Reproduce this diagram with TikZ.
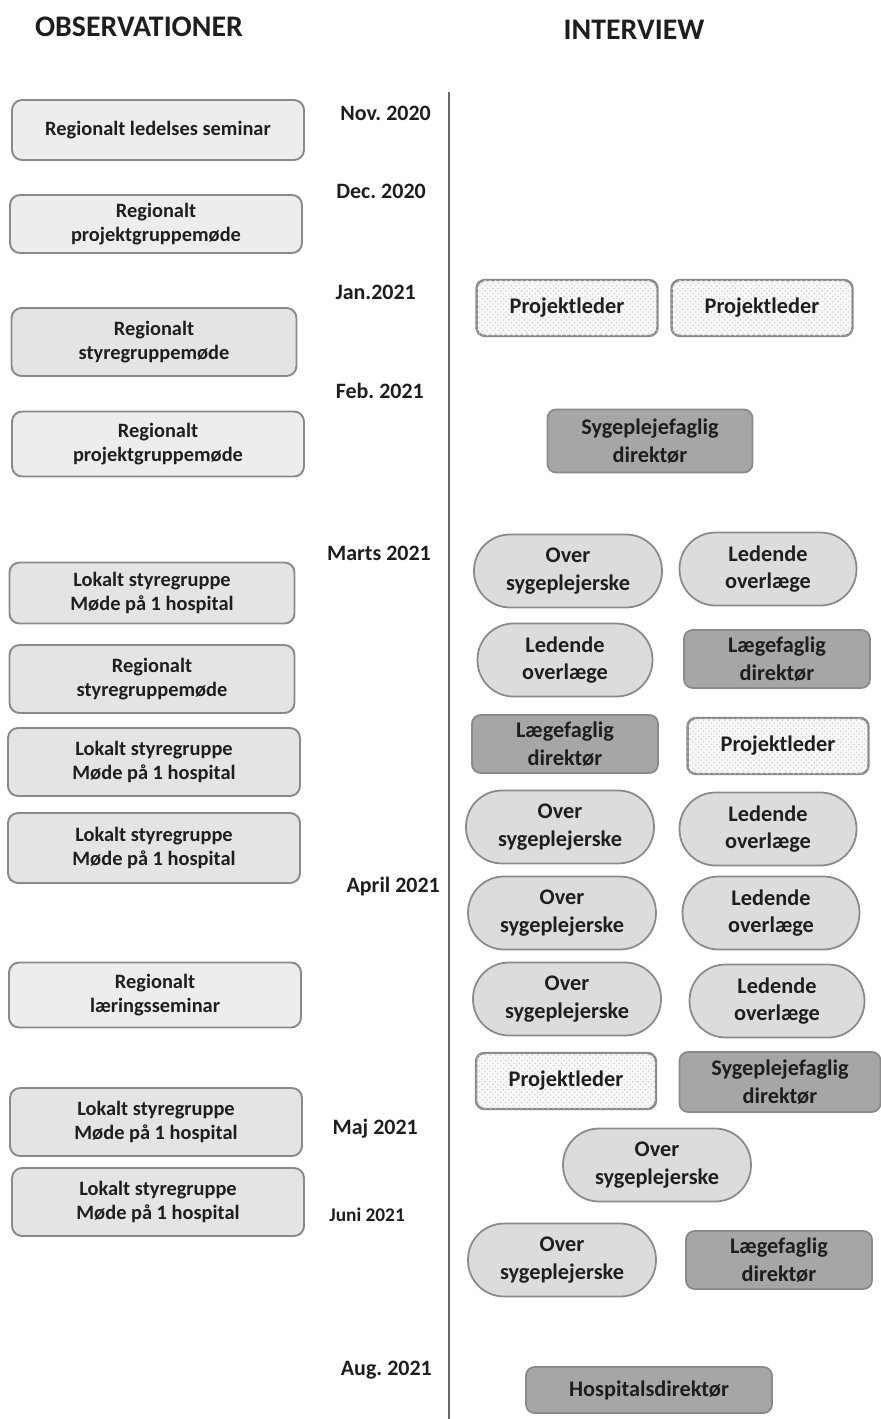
\documentclass[tikz,border=0pt]{standalone}
\usepackage{fontspec}
\setmainfont{Carlito}
\usepackage{xcolor}
\usepackage{tikz}
\usetikzlibrary{positioning,calc,patterns}
\frenchspacing

\definecolor{lysgraa}{HTML}{EDEDED}
\definecolor{styregraa}{HTML}{E4E4E4}
\definecolor{pillgraa}{HTML}{DCDCDC}
\definecolor{moerkgraa}{HTML}{A6A6A6}
\definecolor{rammegraa}{HTML}{8A8A8A}
\definecolor{tekst}{HTML}{1E1E1E}

\begin{document}
\begin{tikzpicture}[x=0.02cm,y=-0.02cm,
    overskrift/.style={font=\bfseries\fontsize{17}{20}\selectfont,text=tekst},
    dato/.style={anchor=east,font=\bfseries\fontsize{12.5}{14}\selectfont,text=tekst},
    obs/.style={draw=rammegraa,line width=1.1pt,rounded corners=0.2cm,fill=lysgraa,
        minimum width=5.84cm,minimum height=1.3cm,align=center,
        font=\bfseries\fontsize{11.6}{14}\selectfont,text=tekst},
    pill/.style={draw=rammegraa,line width=1pt,rounded corners=0.72cm,fill=pillgraa,
        minimum width=3.76cm,minimum height=1.46cm,align=center,
        font=\bfseries\fontsize{12.7}{15.5}\selectfont,text=tekst},
    dir/.style={draw=rammegraa,line width=1pt,rounded corners=0.17cm,fill=moerkgraa,
        minimum width=3.72cm,minimum height=1.16cm,align=center,
        font=\bfseries\fontsize{12.7}{15.5}\selectfont,text=tekst},
    proj/.style={draw=rammegraa,line width=1.4pt,rounded corners=0.17cm,fill=gray!5,
        postaction={pattern=crosshatch dots,pattern color=gray!35},
        minimum width=3.62cm,minimum height=1.12cm,align=center,
        font=\bfseries\fontsize{12.7}{15.5}\selectfont,text=tekst},
    tidslinje/.style={draw=gray!80!black,line width=1.6pt}]

    \useasboundingbox (0,0) rectangle (881,1419);

    % Headers
    \node[overskrift] (hobs) at (139,27) {OBSERVATIONER};
    \node[overskrift] (hint) at (634,30) {INTERVIEW};

    % Timeline
    \coordinate (top) at (449,92);
    \coordinate (bund) at (449,1419);
    \draw[tidslinje] (top) -- (bund);

    % Dates
    \node[dato] (nov) at (437,113) {Nov. 2020};
    \node[dato] (dec) at (432,191) {Dec. 2020};
    \node[dato] (jan) at (422,292) {Jan.2021};
    \node[dato] (feb) at (430,391) {Feb. 2021};
    \node[dato] (mar) at (437,553) {Marts 2021};
    \node[dato] (apr) at (446,887) {April 2021};
    \node[dato] (maj) at (424,1129) {Maj 2021};
    \node[dato,font=\bfseries\fontsize{11}{13}\selectfont] (jun) at (411,1215) {Juni 2021};
    \node[dato] (aug) at (438,1370) {Aug. 2021};

    % Observationer
    \node[obs,minimum height=1.2cm] (o1) at (158,130) {Regionalt ledelses seminar};
    \node[obs,minimum height=1.16cm] (o2) at (156,224) {Regionalt\\projektgruppemøde};
    \node[obs,fill=styregraa,minimum width=5.7cm,minimum height=1.36cm] (o3) at (154,342) {Regionalt\\styregruppemøde};
    \node[obs] (o4) at (158,444) {Regionalt\\projektgruppemøde};
    \node[obs,fill=styregraa,minimum width=5.7cm,minimum height=1.22cm] (o5) at (152,593) {Lokalt styregruppe\\Møde på 1 hospital};
    \node[obs,fill=styregraa,minimum width=5.7cm,minimum height=1.36cm] (o6) at (152,679) {Regionalt\\styregruppemøde};
    \node[obs,fill=styregraa,minimum height=1.36cm] (o7) at (154,762) {Lokalt styregruppe\\Møde på 1 hospital};
    \node[obs,fill=styregraa,minimum height=1.4cm] (o8) at (154,848) {Lokalt styregruppe\\Møde på 1 hospital};
    \node[obs] (o9) at (155,995) {Regionalt\\læringsseminar};
    \node[obs,fill=styregraa,minimum height=1.36cm] (o10) at (156,1122) {Lokalt styregruppe\\Møde på 1 hospital};
    \node[obs,fill=styregraa,minimum height=1.36cm] (o11) at (158,1202) {Lokalt styregruppe\\Møde på 1 hospital};

    % Interview: jan - feb
    \node[proj] (i1) at (567,308) {Projektleder};
    \node[proj] (i2) at (762,308) {Projektleder};
    \node[dir,minimum width=4.1cm,minimum height=1.26cm] (i3) at (650,441) {Sygeplejefaglig\\direktør};

    % Interview: marts - april
    \node[pill] (i4) at (568,571) {Over\\sygeplejerske};
    \node[pill,minimum width=3.54cm] (i5) at (768,569) {Ledende\\overlæge};
    \node[pill,minimum width=3.5cm] (i6) at (565,660) {Ledende\\overlæge};
    \node[dir] (i7) at (777,659) {Lægefaglig\\direktør};
    \node[dir] (i8) at (565,744) {Lægefaglig\\direktør};
    \node[proj] (i9) at (778,746) {Projektleder};
    \node[pill] (i10) at (560,827) {Over\\sygeplejerske};
    \node[pill,minimum width=3.54cm] (i11) at (768,829) {Ledende\\overlæge};
    \node[pill] (i12) at (562,913) {Over\\sygeplejerske};
    \node[pill,minimum width=3.54cm] (i13) at (771,913) {Ledende\\overlæge};
    \node[pill] (i14) at (567,999) {Over\\sygeplejerske};
    \node[pill,minimum width=3.5cm] (i15) at (777,1001) {Ledende\\overlæge};

    % Interview: maj - aug
    \node[proj,minimum width=3.6cm] (i16) at (566,1081) {Projektleder};
    \node[dir,minimum width=4.02cm,minimum height=1.2cm] (i17) at (780,1082) {Sygeplejefaglig\\direktør};
    \node[pill] (i18) at (657,1165) {Over\\sygeplejerske};
    \node[pill] (i19) at (562,1260) {Over\\sygeplejerske};
    \node[dir] (i20) at (779,1260) {Lægefaglig\\direktør};
    \node[dir,minimum width=4.92cm,minimum height=0.92cm] (i21) at (649,1390) {Hospitalsdirektør};
\end{tikzpicture}
\end{document}
